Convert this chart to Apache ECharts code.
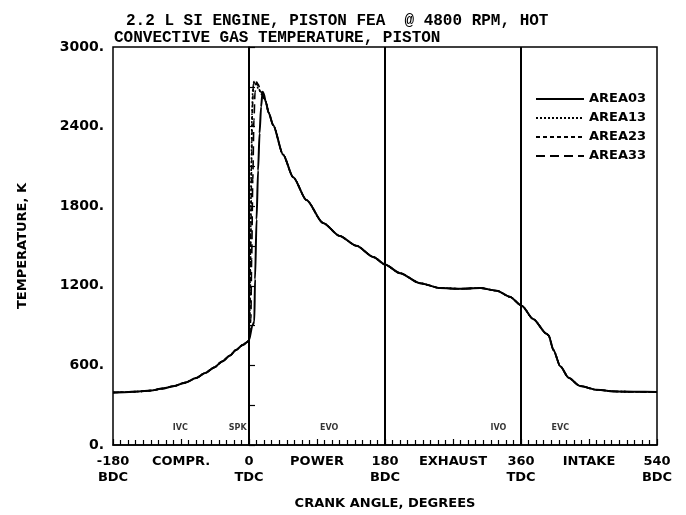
<!DOCTYPE html>
<html>
<head>
<meta charset="utf-8">
<script src="https://cdn.jsdelivr.net/npm/echarts@6/dist/echarts.min.js"></script>
<style>
html,body{margin:0;padding:0;background:#fff;}
#chart{width:686px;height:515px;}
</style>
</head>
<body>
<div id="chart"></div>
<script>
// ---- data ----
const titleLine1 = '2.2 L SI ENGINE, PISTON FEA  @ 4800 RPM, HOT';
const titleLine2 = 'CONVECTIVE GAS TEMPERATURE, PISTON';
const seriesNames = ['AREA03', 'AREA13', 'AREA23', 'AREA33'];

// common part before TDC (crank angle, deg / temperature, K)
const crankBase = [-180, -165, -146, -130, -115, -100, -84.5, -70, -58, -46, -35.5, -25, -17.6, -8, -2, 0];
const tempBase  = [396, 398, 403, 410, 425, 443, 470, 505, 543, 585, 630, 675, 715, 755, 777, 790];

// combustion peaks (differ by area)
const crank03 = [4.5, 7, 8, 10, 12, 14, 16, 18, 19.5];
const temp03  = [900, 930, 1250, 1700, 2070, 2350, 2550, 2662, 2650];
const crank13 = [1, 2, 3, 4, 5, 6.5, 9, 13, 17, 20];
const temp13  = [1000, 1500, 2100, 2500, 2680, 2740, 2720, 2680, 2640, 2612];
const crank23 = [1.5, 2.5, 3.5, 4.5, 6, 8, 11, 15, 19];
const temp23  = [1050, 1600, 2150, 2550, 2720, 2745, 2715, 2665, 2625];
const crank33 = [2.5, 3.5, 5, 6.5, 8, 10, 12, 15, 19];
const temp33  = [950, 1400, 2000, 2450, 2660, 2735, 2720, 2680, 2630];

// common expansion / exhaust / intake part
const crankTail = [22, 26, 32, 45, 58.5, 76, 98, 120, 142, 165, 180, 200, 226, 253, 279, 306, 328, 345, 361, 376, 394, 396.5, 403, 412, 423, 438, 460, 487, 510, 540];
const tempTail  = [2590, 2505, 2411, 2190, 2018, 1847, 1674, 1576, 1502, 1416, 1360, 1295, 1220, 1183, 1178, 1183, 1163, 1118, 1050, 950, 838, 826, 715, 593, 507, 445, 416, 403, 401, 400];

// axis tick labels
const xTickValues = [-180, -90, 0, 90, 180, 270, 360, 450, 540];
const xTickLabels = ['-180\nBDC', 'COMPR.', '0\nTDC', 'POWER', '180\nBDC', 'EXHAUST', '360\nTDC', 'INTAKE', '540\nBDC'];
const yLabelValues = [0, 600, 1200, 1800, 2400, 3000];
const yLabelTexts  = ['0.', '600.', '1200.', '1800.', '2400.', '3000.'];

// valve / spark events
const eventAngles = [-91, -15, 106, 330, 412];
const eventNames  = ['IVC', 'SPK', 'EVO', 'IVO', 'EVC'];

// stroke boundaries (TDC/BDC lines)
const strokeLines = [0, 180, 360];

// ---- build ----
function zip(a, b) { return a.map((v, i) => [v, b[i]]); }
const tail = zip(crankTail, tempTail);
const base = zip(crankBase, tempBase);
const peaks = [zip(crank03, temp03), zip(crank13, temp13), zip(crank23, temp23), zip(crank33, temp33)];
const dashTypes = ['solid', [2, 2], [4, 3], [9, 5]];

const FONT = 'DejaVu Sans';
const MONO = 'Liberation Mono';
const chart = echarts.init(document.getElementById('chart'), null, {renderer: 'canvas'});

const lineSeries = seriesNames.map((name, i) => ({
  name: name,
  type: 'line',
  data: base.concat(peaks[i], tail),
  symbol: 'none',
  smooth: 0.25,
  smoothMonotone: 'x',
  z: 10 - i,
  lineStyle: {color: '#000', width: i === 0 ? 2 : 1.6, type: dashTypes[i]},
  itemStyle: {color: '#000'}
}));
lineSeries.reverse();

lineSeries.push({
  type: 'scatter',
  silent: true,
  symbolSize: 0,
  data: eventAngles.map((a, i) => [a, 125, eventNames[i]]),
  label: {
    show: true, position: 'inside',
    formatter: p => p.value[2],
    color: '#000', fontFamily: FONT, fontSize: 8, fontWeight: 'bold'
  },
  markLine: {
    silent: true,
    symbol: ['none', 'none'],
    label: {show: false},
    lineStyle: {color: '#000', width: 2, type: 'solid'},
    data: strokeLines.map(v => ({xAxis: v}))
  }
});

chart.setOption({
  animation: false,
  backgroundColor: '#fff',
  title: [
    {text: titleLine1, left: 121, top: 8, textStyle: {fontFamily: MONO, fontSize: 16, fontWeight: 'bold', color: '#000'}},
    {text: titleLine2, left: 109, top: 25, textStyle: {fontFamily: MONO, fontSize: 16, fontWeight: 'bold', color: '#000'}}
  ],
  grid: {left: 113, right: 29, top: 47, bottom: 61, show: true, borderColor: '#000', borderWidth: 1.5, backgroundColor: 'transparent'},
  legend: {
    data: seriesNames,
    orient: 'vertical',
    left: 530, top: 87,
    itemWidth: 48, itemHeight: 10, itemGap: 5,
    itemStyle: {opacity: 0},
    textStyle: {fontFamily: FONT, fontSize: 13, fontWeight: 'bold', color: '#000', lineHeight: 14},
    inactiveColor: '#000'
  },
  xAxis: {
    type: 'value', min: -180, max: 540, interval: 90,
    name: 'CRANK ANGLE, DEGREES', nameLocation: 'middle', nameGap: 52,
    nameTextStyle: {fontFamily: FONT, fontSize: 13, fontWeight: 'bold', color: '#000'},
    axisLine: {show: true, lineStyle: {color: '#000', width: 1.5}},
    axisTick: {show: true, inside: true, length: 6, lineStyle: {color: '#000', width: 1.2}},
    minorTick: {show: true, splitNumber: 9, length: 5, lineStyle: {color: '#000', width: 1.2}},
    splitLine: {show: false},
    axisLabel: {
      margin: 9, lineHeight: 16,
      fontFamily: FONT, fontSize: 13, fontWeight: 'bold', color: '#000',
      formatter: v => { const k = xTickValues.indexOf(v); return k >= 0 ? xTickLabels[k] : ''; }
    }
  },
  yAxis: {
    type: 'value', min: 0, max: 3000, interval: 300,
    name: 'TEMPERATURE, K', nameLocation: 'middle', nameGap: 84, nameRotate: 90,
    nameTextStyle: {fontFamily: FONT, fontSize: 13, fontWeight: 'bold', color: '#000'},
    axisLine: {show: true, lineStyle: {color: '#000', width: 1.5}},
    axisTick: {show: true, inside: true, length: 6, lineStyle: {color: '#000', width: 1.2}},
    splitLine: {show: false},
    axisLabel: {
      margin: 9,
      fontFamily: FONT, fontSize: 14, fontWeight: 'bold', color: '#000',
      formatter: v => { const k = yLabelValues.indexOf(v); return k >= 0 ? yLabelTexts[k] : ''; }
    }
  },
  series: lineSeries
});
</script>
</body>
</html>
